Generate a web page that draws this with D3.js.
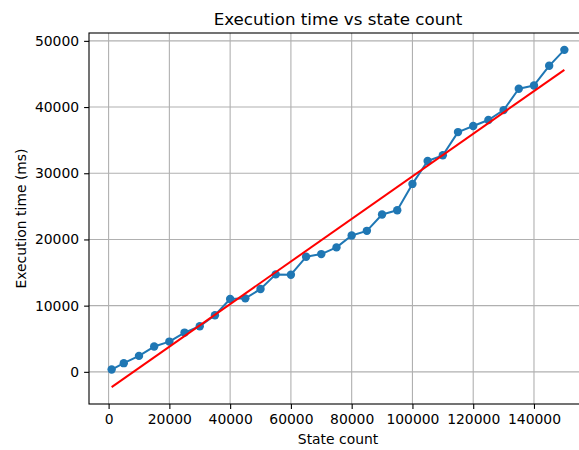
<!DOCTYPE html>
<html>
<head>
<meta charset="utf-8">
<script src="https://cdn.jsdelivr.net/npm/d3@7"></script>
<style>
  html, body { margin: 0; padding: 0; background: #fff; }
  svg { display: block; font-family: "DejaVu Sans", sans-serif; }
</style>
</head>
<body>
<svg id="chart" width="579" height="450"></svg>
<script>
// Measured execution time for each state count
const stateCounts = [1000, 5000, 10000, 15000, 20000, 25000, 30000, 35000, 40000, 45000,
  50000, 55000, 60000, 65000, 70000, 75000, 80000, 85000, 90000, 95000,
  100000, 105000, 110000, 115000, 120000, 125000, 130000, 135000, 140000, 145000, 150000];
const execTimes = [350, 1310, 2410, 3820, 4570, 5930, 6880, 8540, 11000, 11100,
  12510, 14720, 14670, 17380, 17790, 18800, 20600, 21300, 23770, 24420,
  28390, 31850, 32710, 36220, 37130, 38050, 39540, 42760, 43260, 46230, 48640];
const xTicks = [0, 20000, 40000, 60000, 80000, 100000, 120000, 140000];
const yTicks = [0, 10000, 20000, 30000, 40000, 50000];

const title = "Execution time vs state count";
const xLabel = "State count";
const yLabel = "Execution time (ms)";

// Least-squares linear fit over the measurements
const n = stateCounts.length;
const mx = d3.mean(stateCounts), my = d3.mean(execTimes);
let sxy = 0, sxx = 0;
for (let i = 0; i < n; i++) {
  sxy += (stateCounts[i] - mx) * (execTimes[i] - my);
  sxx += (stateCounts[i] - mx) ** 2;
}
const slope = sxy / sxx;
const intercept = my - slope * mx;
const fitX = d3.extent(stateCounts);
const fitPts = fitX.map(v => [v, intercept + slope * v]);

const points = stateCounts.map((v, i) => [v, execTimes[i]]);

// Axes box
const plotL = 89, plotR = 587, plotT = 33, plotB = 404;

function padded(ext) {
  const m = (ext[1] - ext[0]) * 0.05;
  return [ext[0] - m, ext[1] + m];
}
const xDom = padded(fitX);
const yAll = execTimes.concat(fitPts.map(p => p[1]));
const yDom = padded(d3.extent(yAll));

const x = d3.scaleLinear().domain(xDom).range([plotL, plotR]);
const y = d3.scaleLinear().domain(yDom).range([plotB, plotT]);

const svg = d3.select("#chart");
svg.append("rect").attr("width", 579).attr("height", 450).attr("fill", "#fff");

const fontSize = 13.9;

// Grid lines
const grid = svg.append("g").attr("stroke", "#b0b0b0").attr("stroke-width", 1.1);
grid.selectAll("line.gx").data(xTicks).join("line")
  .attr("x1", d => x(d)).attr("x2", d => x(d))
  .attr("y1", plotT).attr("y2", plotB);
grid.selectAll("line.gy").data(yTicks).join("line")
  .attr("x1", plotL).attr("x2", plotR)
  .attr("y1", d => y(d)).attr("y2", d => y(d));

// Measured series
const line = d3.line().x(d => x(d[0])).y(d => y(d[1]));
svg.append("path").datum(points)
  .attr("d", line).attr("fill", "none")
  .attr("stroke", "#1f77b4").attr("stroke-width", 2).attr("stroke-linejoin", "round");
svg.append("g").selectAll("circle").data(points).join("circle")
  .attr("cx", d => x(d[0])).attr("cy", d => y(d[1])).attr("r", 4.2)
  .attr("fill", "#1f77b4");

// Fit line
svg.append("path").datum(fitPts)
  .attr("d", line).attr("fill", "none")
  .attr("stroke", "#ff0000").attr("stroke-width", 2);

// Axes
const xAxis = d3.axisBottom(x).tickValues(xTicks).tickSize(4.9).tickPadding(4.9).tickFormat(d3.format("d"));
const yAxis = d3.axisLeft(y).tickValues(yTicks).tickSize(4.9).tickPadding(5).tickFormat(d3.format("d"));

const gx = svg.append("g").attr("transform", `translate(0,${plotB})`).call(xAxis);
const gy = svg.append("g").attr("transform", `translate(${plotL},0)`).call(yAxis);
[gx, gy].forEach(g => {
  g.select(".domain").remove();
  g.selectAll(".tick line").attr("stroke", "#000").attr("stroke-width", 1.1);
  g.selectAll(".tick text").attr("fill", "#000")
    .style("font-family", "DejaVu Sans, sans-serif").style("font-size", fontSize + "px");
});

// Frame
svg.append("rect")
  .attr("x", plotL).attr("y", plotT)
  .attr("width", plotR - plotL).attr("height", plotB - plotT)
  .attr("fill", "none").attr("stroke", "#000").attr("stroke-width", 1.1);

// Titles
svg.append("text").attr("x", (plotL + plotR) / 2).attr("y", 25)
  .attr("text-anchor", "middle").style("font-size", "16.7px").attr("fill", "#000")
  .text(title);
svg.append("text").attr("x", (plotL + plotR) / 2).attr("y", 444)
  .attr("text-anchor", "middle").style("font-size", fontSize + "px").attr("fill", "#000")
  .text(xLabel);
svg.append("text")
  .attr("transform", `translate(26,${(plotT + plotB) / 2}) rotate(-90)`)
  .attr("text-anchor", "middle").style("font-size", fontSize + "px").attr("fill", "#000")
  .text(yLabel);
</script>
</body>
</html>
